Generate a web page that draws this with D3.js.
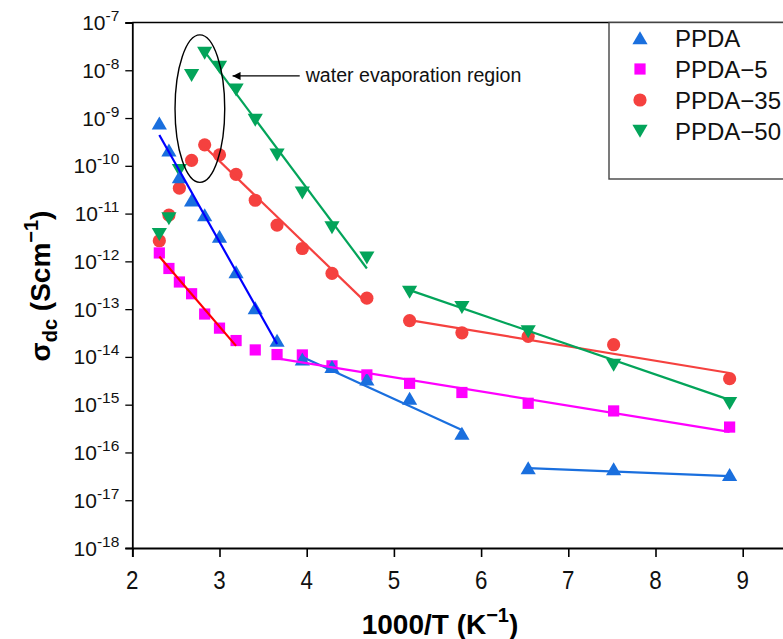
<!DOCTYPE html>
<html><head><meta charset="utf-8">
<script src="https://cdn.jsdelivr.net/npm/d3@7"></script>
<style>
body{margin:0;background:#fff;}
svg{display:block;font-family:"Liberation Sans",Arial,Helvetica,sans-serif;}
</style>
</head><body>
<svg id="chart" width="783" height="639"></svg>
<script>
// 1000/T (K^-1) for each measurement temperature
const invT = [2.31, 2.42, 2.54, 2.68, 2.83, 3.00, 3.19, 3.41, 3.66, 3.95, 4.29, 4.69, 5.18, 5.78, 6.54, 7.52, 8.85];

// DC conductivity (S/cm)
const sigmaPPDA   = [7.8e-10, 2.1e-10, 5.8e-11, 1.9e-11, 9.3e-12, 3.3e-12, 6.0e-13, 1.05e-13, 2.2e-14, 8.9e-15, 6.2e-15, 3.4e-15, 1.35e-15, 2.5e-16, 4.7e-17, 4.5e-17, 3.4e-17];
const sigmaPPDA5  = [1.5e-12, 7.1e-13, 3.7e-13, 2.1e-13, 7.9e-14, 4.0e-14, 2.2e-14, 1.4e-14, 1.12e-14, 1.1e-14, 6.5e-15, 4.2e-15, 2.8e-15, 1.8e-15, 1.07e-15, 7.4e-16, 3.4e-16];
const sigmaPPDA35 = [2.7e-12, 9.3e-12, 3.4e-11, 1.3e-10, 2.75e-10, 1.7e-10, 6.6e-11, 1.9e-11, 5.75e-12, 1.86e-12, 5.6e-13, 1.7e-13, 5.75e-14, 3.2e-14, 2.7e-14, 1.8e-14, 3.5e-15];
const sigmaPPDA50 = [3.7e-12, 7.9e-12, 8.1e-11, 7.9e-9, 2.3e-8, 1.17e-8, 3.9e-9, 9.1e-10, 1.7e-10, 2.75e-11, 5.1e-12, 1.2e-12, 2.3e-13, 1.1e-13, 3.4e-14, 6.8e-15, 1.07e-15];

// Arrhenius fit segments: [x0, sigma0, x1, sigma1]
const fitPPDA   = [[2.31, 4.4e-10, 3.66, 1.86e-14], [3.95, 1.0e-14, 5.78, 2.95e-16], [6.54, 4.7e-17, 8.85, 3.2e-17]];
const fitPPDA5  = [[2.31, 1.26e-12, 3.19, 1.7e-14], [3.66, 9.3e-15, 8.85, 2.7e-16]];
const fitPPDA35 = [[2.83, 2.5e-10, 4.69, 1.32e-13], [5.18, 5.9e-14, 8.85, 4.6e-15]];
const fitPPDA50 = [[2.83, 2.45e-8, 4.69, 7.1e-13], [5.18, 2.5e-13, 8.85, 1.26e-15]];
const fitColorsPPDA = ["#0000ff", "#1a6fde", "#1a6fde"];
const fitColorsPPDA5 = ["#ff0000", "#ff00ff"];

const seriesNames = ["PPDA", "PPDA\u22125", "PPDA\u221235", "PPDA\u221250"];
const seriesColors = ["#1a6fde", "#ff00ff", "#f5413f", "#03a45a"];

const xTicks = [2, 3, 4, 5, 6, 7, 8, 9];
const xMinorTicks = [2.5, 3.5, 4.5, 5.5, 6.5, 7.5, 8.5, 9.5];
const yExponents = [-7, -8, -9, -10, -11, -12, -13, -14, -15, -16, -17, -18];

// Annotation for the water evaporation region
const ellipseX = [2.49, 3.06];
const ellipseY = [5.5e-8, 4.5e-11];
const arrowX = [3.92, 3.15];
const arrowY = 7.6e-9;
const noteText = "water evaporation region";

(function draw() {
  const svg = d3.select("#chart");
  const W = 783;
  const mLeft = 132.3, mTop = 22.5, mBottom = 548, mRight = 786.3;

  const x = d3.scaleLinear().domain([2, 9.5]).range([mLeft, mRight]);
  const y = d3.scaleLog().domain([1e-18, 1e-7]).range([mBottom, mTop]);

  // Axes
  const xAxisG = svg.append("g").attr("transform", `translate(0,${mBottom})`);
  xAxisG.call(d3.axisBottom(x).tickValues(xMinorTicks).tickSize(5).tickFormat(""));
  xAxisG.call(d3.axisBottom(x).tickValues(xTicks).tickSize(9).tickFormat(""));
  xAxisG.selectAll("line").attr("stroke", "#000").attr("stroke-width", 1.6);
  xAxisG.selectAll("path").attr("stroke", "#000").attr("stroke-width", 1.8);

  const minorY = [];
  for (let e = -18; e < -7; e++) for (let m = 2; m <= 9; m++) minorY.push(m * Math.pow(10, e));
  const yAxisG = svg.append("g").attr("transform", `translate(${mLeft},0)`);
  yAxisG.call(d3.axisLeft(y).tickValues(minorY).tickSize(4).tickFormat(""));
  yAxisG.call(d3.axisLeft(y).tickValues(yExponents.map(e => Math.pow(10, e))).tickSize(7).tickFormat(""));
  yAxisG.selectAll("line").attr("stroke", "#000").attr("stroke-width", 1.3);
  yAxisG.selectAll("path").attr("stroke", "#000").attr("stroke-width", 1.8);

  // top frame line
  svg.append("line").attr("x1", mLeft).attr("x2", W).attr("y1", mTop).attr("y2", mTop)
    .attr("stroke", "#000").attr("stroke-width", 1.6);

  // x tick labels (slightly condensed digits)
  svg.append("g").selectAll("text").data(xTicks).join("text")
    .attr("transform", d => `translate(${x(d)},${mBottom + 41}) scale(0.86,1)`)
    .attr("text-anchor", "middle").attr("font-size", 26).attr("fill", "#111")
    .text(d => d);

  // y tick labels
  const yl = svg.append("g").selectAll("text").data(yExponents).join("text")
    .attr("x", mLeft - 13).attr("y", d => y(Math.pow(10, d)) + 7.5)
    .attr("text-anchor", "end").attr("font-size", 21).attr("fill", "#111");
  yl.append("tspan").text("10");
  yl.append("tspan").attr("dy", -9).attr("font-size", 15.5).text(d => d);

  // axis titles
  const xt = svg.append("text").attr("transform", "translate(440,634)")
    .attr("text-anchor", "middle").attr("font-size", 28).attr("font-weight", "bold");
  xt.append("tspan").text("1000/T (K");
  xt.append("tspan").attr("dy", -12).attr("font-size", 20).text("\u22121");
  xt.append("tspan").attr("dy", 12).text(")");

  const yt = svg.append("text").attr("transform", "translate(50,286) rotate(-90)")
    .attr("text-anchor", "middle").attr("font-size", 28).attr("font-weight", "bold");
  yt.append("tspan").text("\u03c3");
  yt.append("tspan").attr("dy", 7).attr("font-size", 20).text("dc");
  yt.append("tspan").attr("dy", -7).text(" (Scm");
  yt.append("tspan").attr("dy", -12).attr("font-size", 20).text("\u22121");
  yt.append("tspan").attr("dy", 12).text(")");

  // marker shapes
  const shapes = {
    up: "M0,-6.8L7.6,6.2L-7.6,6.2Z",
    down: "M0,6.8L7.6,-6.2L-7.6,-6.2Z",
    square: "M-5.6,-5.6H5.6V5.6H-5.6Z",
    circle: d3.symbol(d3.symbolCircle, Math.PI * 6.6 * 6.6)()
  };
  const seriesShapes = ["up", "square", "circle", "down"];
  const allSeries = [sigmaPPDA, sigmaPPDA5, sigmaPPDA35, sigmaPPDA50];

  // draw order: circles, squares, down triangles, up triangles
  const drawOrder = [2, 1, 3, 0];
  const plot = svg.append("g");
  drawOrder.forEach(i => {
    plot.append("g").selectAll("path").data(allSeries[i]).join("path")
      .attr("d", shapes[seriesShapes[i]])
      .attr("transform", (d, k) => `translate(${x(invT[k])},${y(d)})`)
      .attr("fill", seriesColors[i]);
  });

  // fit lines
  function drawFits(segs, colors) {
    segs.forEach((s, k) => {
      plot.append("line")
        .attr("x1", x(s[0])).attr("y1", y(s[1]))
        .attr("x2", x(s[2])).attr("y2", y(s[3]))
        .attr("stroke", colors[k]).attr("stroke-width", 2.2);
    });
  }
  drawFits(fitPPDA, fitColorsPPDA);
  drawFits(fitPPDA5, fitColorsPPDA5);
  drawFits(fitPPDA35, [seriesColors[2], seriesColors[2]]);
  drawFits(fitPPDA50, [seriesColors[3], seriesColors[3]]);

  // evaporation region annotation
  const ex0 = x(ellipseX[0]), ex1 = x(ellipseX[1]);
  const ey0 = y(ellipseY[0]), ey1 = y(ellipseY[1]);
  svg.append("ellipse")
    .attr("cx", (ex0 + ex1) / 2).attr("cy", (ey0 + ey1) / 2)
    .attr("rx", (ex1 - ex0) / 2).attr("ry", (ey1 - ey0) / 2)
    .attr("fill", "none").attr("stroke", "#000").attr("stroke-width", 1.4);

  svg.append("defs").append("marker").attr("id", "ah")
    .attr("viewBox", "0 0 10 10").attr("refX", 10).attr("refY", 5)
    .attr("markerWidth", 14).attr("markerHeight", 8).attr("markerUnits", "userSpaceOnUse")
    .attr("orient", "auto")
    .append("path").attr("d", "M0,0L10,5L0,10Z").attr("fill", "#000");
  svg.append("line")
    .attr("x1", x(arrowX[0])).attr("x2", x(arrowX[1]))
    .attr("y1", y(arrowY)).attr("y2", y(arrowY))
    .attr("stroke", "#000").attr("stroke-width", 1.2).attr("marker-end", "url(#ah)");
  svg.append("text").attr("x", x(arrowX[0]) + 6).attr("y", y(arrowY) + 6.5)
    .attr("font-size", 19.6).attr("fill", "#111").text(noteText);

  // legend
  const lg = svg.append("g");
  lg.append("rect").attr("x", 609).attr("y", mTop).attr("width", 200).attr("height", 156.5)
    .attr("fill", "#fff").attr("stroke", "#444").attr("stroke-width", 1.4);
  seriesNames.forEach((name, i) => {
    const cy = 38 + i * 31;
    lg.append("path").attr("d", shapes[seriesShapes[i]])
      .attr("transform", `translate(640,${cy})`).attr("fill", seriesColors[i]);
    lg.append("text").attr("x", 675).attr("y", cy + 8.5)
      .attr("font-size", 24).attr("fill", "#111").text(name);
  });
})();
</script>
</body></html>
